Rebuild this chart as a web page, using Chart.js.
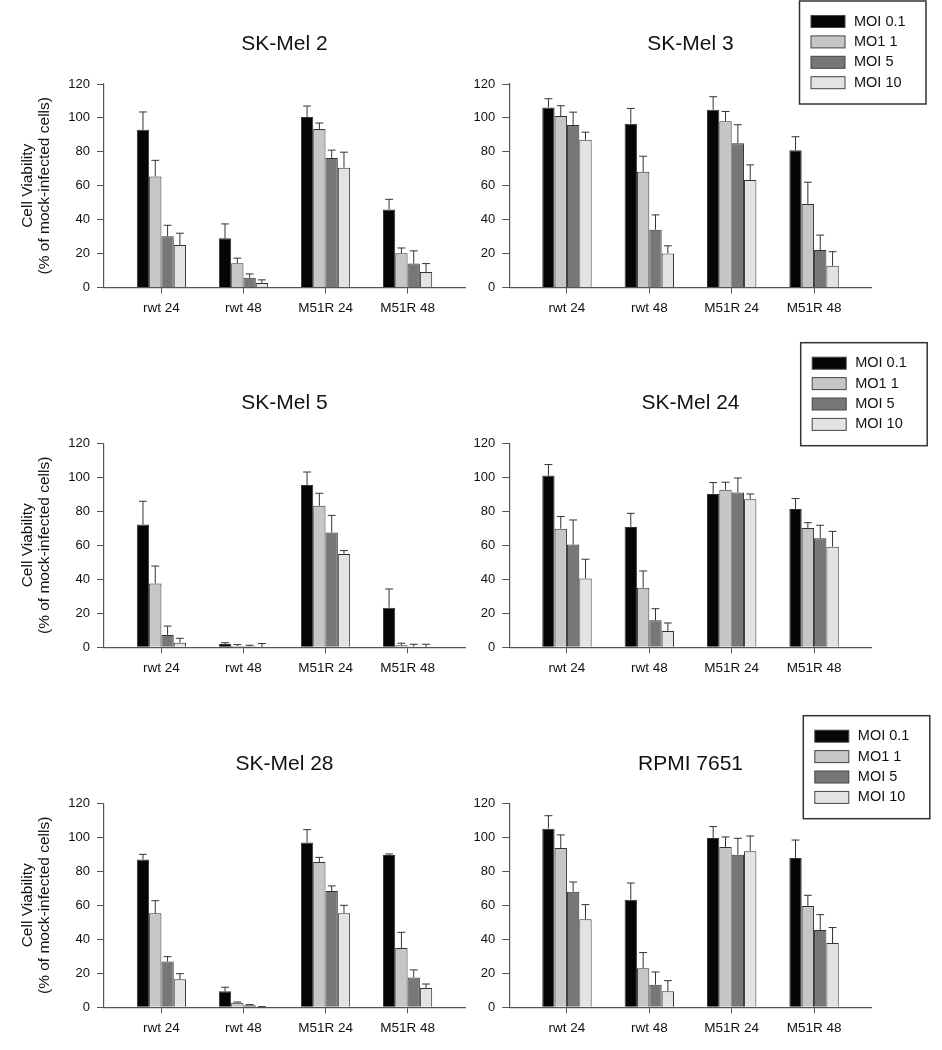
<!DOCTYPE html>
<html>
<head>
<meta charset="utf-8">
<script src="https://cdn.jsdelivr.net/npm/chart.js@4.4.1/dist/chart.umd.min.js"></script>
<style>
  body { margin: 0; background: #fff; }
  .panel { position: absolute; }
</style>
</head>
<body>
<div id="page"></div>
<script>
// valores (linhas = MOI, colunas = categorias)
const categories = ['rwt 24', 'rwt 48', 'M51R 24', 'M51R 48'];
const moiLabels = ['MOI 0.1', 'MO1 1', 'MOI 5', 'MOI 10'];
const moiColors = ['#050505', '#c6c6c6', '#777777', '#e3e3e3'];
const panelTitles = ['SK-Mel 2', 'SK-Mel 3', 'SK-Mel 5', 'SK-Mel 24', 'SK-Mel 28', 'RPMI 7651'];
const yTicks = [0, 20, 40, 60, 80, 100, 120];

const skMel2Means = [[93, 29, 100.5, 46], [65.5, 14.3, 93.5, 20.2], [30.2, 5.7, 76.3, 14.1], [25, 2.7, 70.6, 9.2]];
const skMel2Errors = [[10.5, 8.5, 6.5, 6], [9.5, 3, 3.5, 3.1], [6.5, 2.3, 4.7, 7.5], [7, 1.8, 9.2, 4.9]];

const skMel3Means = [[106.2, 96.6, 104.8, 81], [101.1, 68.2, 98.1, 49.3], [95.8, 34.1, 85.1, 22.1], [87.1, 20.1, 63.4, 12.8]];
const skMel3Errors = [[5.1, 9, 7.7, 7.9], [6.1, 9.2, 5.7, 12.8], [7.6, 8.7, 10.9, 8.8], [4.5, 4.5, 8.9, 8.3]];

const skMel5Means = [[72.2, 2, 95.5, 23.3], [37.6, 0.8, 83.3, 1.2], [7.3, 0.6, 67.5, 0.4], [2.7, 0.2, 54.9, 0.2]];
const skMel5Errors = [[13.7, 0.7, 7.6, 11], [10.2, 0.8, 7.3, 1.2], [5.2, 0.6, 10.1, 1.4], [2.6, 2, 2, 1.6]];

const skMel24Means = [[101, 70.8, 90.2, 81.4], [69.8, 35.1, 92.7, 70.2], [60.4, 15.9, 91, 64.1], [40.4, 9.6, 87.1, 59.2]];
const skMel24Errors = [[6.5, 8, 6.7, 6.1], [7.1, 9.8, 4.4, 3.1], [14.5, 6.8, 8.6, 7.7], [11.4, 4.7, 3.1, 9]];

const skMel28Means = [[86.9, 9.4, 96.9, 89.6], [55.3, 2.7, 85.5, 34.9], [26.9, 1.2, 68.4, 17.6], [16.5, 0.2, 55.3, 11.4]];
const skMel28Errors = [[3.1, 2.4, 7.6, 0.6], [7.4, 0.4, 2.7, 9.2], [2.9, 0.4, 3, 4.4], [3.3, 0.2, 4.7, 2.3]];

const rpmiMeans = [[105.1, 63.3, 99.6, 87.8], [93.7, 22.9, 94.3, 59.6], [68, 13.3, 89.8, 45.5], [51.8, 9.4, 91.8, 37.8]];
const rpmiErrors = [[7.6, 9.8, 6.7, 10.6], [7.7, 9.3, 5.9, 6.3], [5.7, 7.5, 9.6, 9], [8.6, 6.3, 9, 9.1]];

const panelMeans = [skMel2Means, skMel3Means, skMel5Means, skMel24Means, skMel28Means, rpmiMeans];
const panelErrors = [skMel2Errors, skMel3Errors, skMel5Errors, skMel24Errors, skMel28Errors, rpmiErrors];

// geometria das colunas e linhas da figura
const colGeom = [
  { x: 0, w: 470, L: 104, R: 465 },
  { x: 470, w: 472, L: 39.3, R: 401.7 }
];
const rowGeom = [
  { y: 0, h: 330, T: 84, B: 287.5, tc: 44.5, lx: 329.5, ly: 1 },
  { y: 330, h: 360, T: 113.3, B: 317.3, tc: 73, lx: 330.7, ly: 12.7 },
  { y: 690, h: 360, T: 113.3, B: 317.3, tc: 74, lx: 333.3, ly: 25.7 }
];

Chart.defaults.font.family = "'Liberation Sans', Arial, sans-serif";
Chart.defaults.color = '#111';

// barras de erro (só para cima)
const errorBars = {
  id: 'errorBars',
  afterDatasetsDraw(chart) {
    const ctx = chart.ctx;
    const yScale = chart.scales.y;
    ctx.save();
    ctx.strokeStyle = '#333';
    ctx.lineWidth = 1;
    chart.data.datasets.forEach((ds, i) => {
      const meta = chart.getDatasetMeta(i);
      meta.data.forEach((bar, j) => {
        const v = ds.data[j].y;
        const e = ds.errors[j];
        const yTop = yScale.getPixelForValue(v + e);
        const half = bar.width * 0.32;
        ctx.beginPath();
        ctx.moveTo(bar.x, bar.y);
        ctx.lineTo(bar.x, yTop);
        ctx.moveTo(bar.x - half, yTop);
        ctx.lineTo(bar.x + half, yTop);
        ctx.stroke();
      });
    });
    ctx.restore();
  }
};

// legenda com moldura
const legendBox = {
  id: 'legendBox',
  afterDraw(chart, args, opts) {
    if (!opts.show) return;
    const ctx = chart.ctx;
    ctx.save();
    ctx.strokeStyle = '#333';
    ctx.lineWidth = 1.5;
    ctx.strokeRect(opts.x, opts.y, 126.5, 103);
    ctx.font = "14.5px 'Liberation Sans', Arial, sans-serif";
    ctx.textBaseline = 'middle';
    chart.data.datasets.forEach((ds, i) => {
      const cy = opts.y + 20.5 + i * 20.4;
      ctx.fillStyle = ds.backgroundColor;
      ctx.fillRect(opts.x + 11.5, cy - 6, 34, 12);
      ctx.strokeStyle = '#444';
      ctx.lineWidth = 1;
      ctx.strokeRect(opts.x + 11.5, cy - 6, 34, 12);
      ctx.fillStyle = '#111';
      ctx.fillText(ds.label, opts.x + 54.5, cy);
    });
    ctx.restore();
  }
};

function graficoBarras(idx) {
  const col = colGeom[idx % 2];
  const row = rowGeom[Math.floor(idx / 2)];
  const div = document.createElement('div');
  div.className = 'panel';
  div.style.left = col.x + 'px';
  div.style.top = row.y + 'px';
  div.style.width = col.w + 'px';
  div.style.height = row.h + 'px';
  const canvas = document.createElement('canvas');
  div.appendChild(canvas);
  document.getElementById('page').appendChild(div);

  const means = panelMeans[idx];
  const errors = panelErrors[idx];
  const datasets = moiLabels.map((lab, s) => ({
    label: lab,
    data: categories.map((c, k) => ({ x: k, y: means[s][k] })),
    errors: errors[s],
    backgroundColor: moiColors[s],
    borderColor: '#333',
    borderWidth: 1,
    categoryPercentage: 0.6,
    barPercentage: 1.0
  }));

  const titleLh = 25.2;
  new Chart(canvas.getContext('2d'), {
    type: 'bar',
    data: { datasets: datasets },
    options: {
      responsive: true,
      maintainAspectRatio: false,
      animation: false,
      layout: {
        padding: {
          left: 0,
          right: col.w - col.R,
          top: row.tc - titleLh / 2,
          bottom: row.h - row.B - 30
        }
      },
      scales: {
        x: {
          type: 'linear',
          min: -0.7,
          max: 3.7,
          offset: false,
          afterBuildTicks: (scale) => { scale.ticks = categories.map((c, k) => ({ value: k })); },
          afterFit: (scale) => { scale.height = 30; },
          ticks: {
            callback: (v) => categories[v],
            font: { size: 13.5 },
            color: '#111',
            padding: 7,
            maxRotation: 0
          },
          grid: { drawOnChartArea: false, offset: false, tickLength: 6, color: '#555' },
          border: { color: '#555', width: 1.2 }
        },
        y: {
          min: 0,
          max: 120,
          afterBuildTicks: (scale) => { scale.ticks = yTicks.map(v => ({ value: v })); },
          afterFit: (scale) => { scale.width = col.L; },
          ticks: { font: { size: 13 }, color: '#111', padding: 7 },
          grid: { drawOnChartArea: false, tickLength: 7, color: '#555' },
          border: { color: '#555', width: 1.2 },
          title: {
            display: idx % 2 === 0,
            text: ['Cell Viability', '(% of mock-infected cells)'],
            font: { size: 15.5, lineHeight: 17 / 15.5 },
            color: '#111',
            padding: { top: 19.5, bottom: 0 }
          }
        }
      },
      plugins: {
        legend: { display: false },
        tooltip: { enabled: false },
        title: {
          display: true,
          text: panelTitles[idx],
          fullSize: false,
          font: { size: 21, weight: 'normal', lineHeight: 1.2 },
          color: '#111',
          padding: { top: 0, bottom: row.T - row.tc - titleLh / 2 }
        },
        legendBox: { show: idx % 2 === 1, x: row.lx, y: row.ly }
      }
    },
    plugins: [errorBars, legendBox]
  });
}

for (let i = 0; i < 6; i++) graficoBarras(i);
</script>
</body>
</html>
